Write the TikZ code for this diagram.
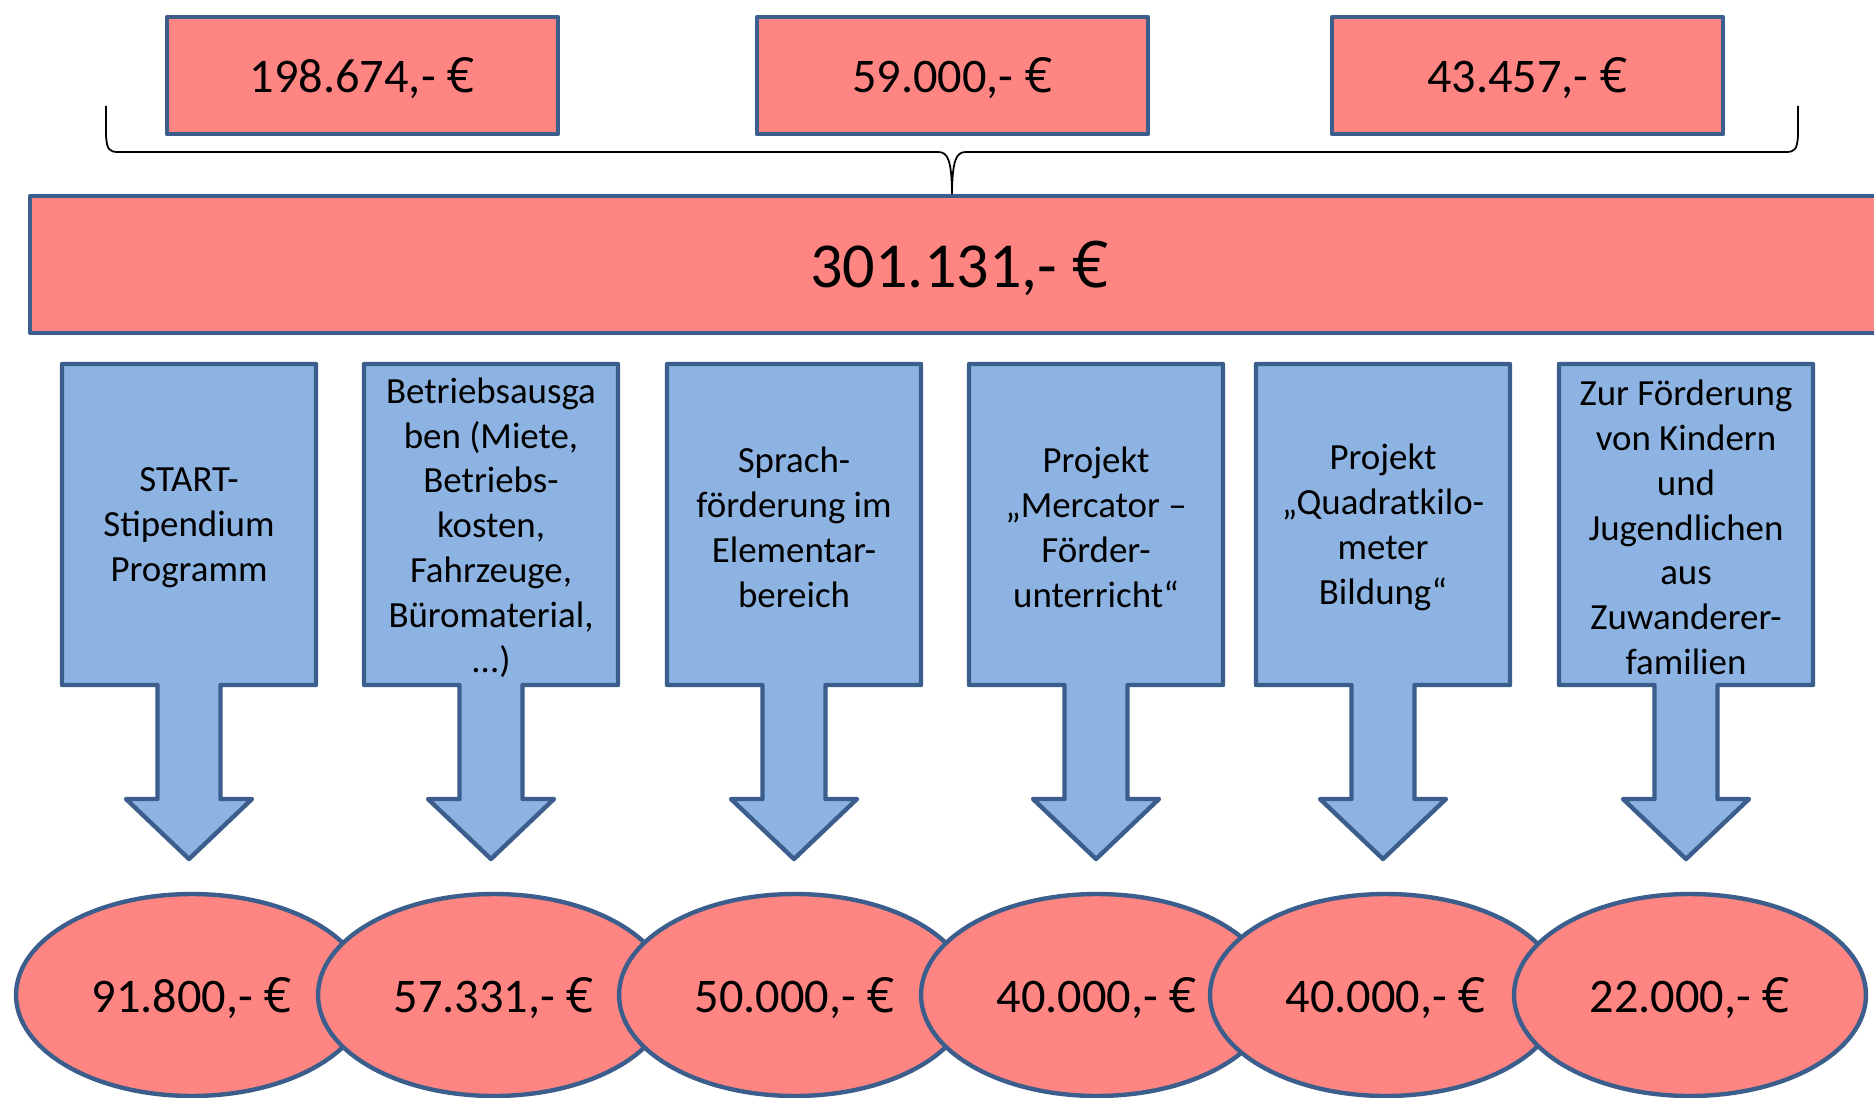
\documentclass[tikz,border=0pt]{standalone}
\usepackage{fontspec}
\setmainfont{Carlito}
\newfontfamily\eurfont{Open Sans}
\newcommand\eursym{{\eurfont €}}
\usetikzlibrary{shapes.geometric}
\definecolor{salmon}{RGB}{255,133,131}
\definecolor{skyfill}{RGB}{141,179,226}
\definecolor{edgeblue}{RGB}{59,94,140}
\tikzset{
  outline/.style={draw=edgeblue, line width=2.5pt, line join=round},
  redbox/.style={outline, fill=salmon, rectangle, inner sep=0pt, text depth=0pt},
  topbox/.style={redbox, minimum width=7.82cm, minimum height=2.34cm, font=\fontsize{27.5}{33}\selectfont},
  totalbox/.style={redbox, minimum width=37.2cm, minimum height=2.74cm, font=\fontsize{36.5}{44}\selectfont},
  amount/.style={ellipse, outline, fill=salmon, minimum width=7.04cm, minimum height=4.04cm, inner sep=0pt, text depth=0pt, font=\fontsize{27.5}{33}\selectfont},
  arrowshape/.style={outline, fill=skyfill},
  boxtext/.style={align=center, inner sep=0pt, font=\fontsize{21}{25.5}\selectfont},
  bracket/.style={draw=black, line width=1pt},
  downcallout/.pic={
    \path[arrowshape] (-127,364) -- (127,364) -- (127,685) -- (31.5,685) -- (31.5,799)
      -- (63,799) -- (0,859) -- (-63,799) -- (-31.5,799) -- (-31.5,685) -- (-127,685) -- cycle;
  }
}
\begin{document}
\begin{tikzpicture}[x=0.02cm,y=-0.02cm]
\useasboundingbox (0,0) rectangle (1874,1098);
\clip (0,0) rectangle (1874,1098);

% top boxes
\node[topbox] (t1) at (362.5,75.5) {198.674,- \eursym};
\node[topbox] (t2) at (952.5,75.5) {59.000,- \eursym};
\node[topbox] (t3) at (1527.5,75.5) {43.457,- \eursym};

% brace
\coordinate (bl) at (106,106);
\coordinate (br) at (1798,106);
\coordinate (bm) at (952,198);
\draw[bracket] (bl) -- (106,136) .. controls (107,149) and (109,152) .. (118,152)
  -- (938,152) .. controls (948,152) and (952,160) .. (bm);
\draw[bracket] (br) -- (1798,136) .. controls (1797,149) and (1795,152) .. (1786,152)
  -- (966,152) .. controls (956,152) and (952,160) .. (bm);

% total
\node[totalbox] (total) at (960,264.5) {301.131,- \eursym};

% callouts
\pic at (189,0) {downcallout};
\pic at (491,0) {downcallout};
\pic at (794,0) {downcallout};
\pic at (1096,0) {downcallout};
\pic at (1383,0) {downcallout};
\pic at (1686,0) {downcallout};

\node[boxtext] (c1) at (189,527.5) {START-\\Stipendium\\Programm};
\node[boxtext] (c2) at (491,527.5) {Betriebsausga\\ben (Miete,\\Betriebs-\\kosten,\\Fahrzeuge,\\Büromaterial,\\...)};
\node[boxtext] (c3) at (794,527.5) {Sprach-\\förderung im\\Elementar-\\bereich};
\node[boxtext] (c4) at (1096,527.5) {Projekt\\„Mercator –\\Förder-\\unterricht“};
\node[boxtext] (c5) at (1383,527.5) {Projekt\\„Quadratkilo-\\meter\\Bildung“};
\node[boxtext] (c6) at (1686,527.5) {Zur Förderung\\von Kindern\\und\\Jugendlichen\\aus\\Zuwanderer-\\familien};

% amounts
\node[amount] (e1) at (192,995) {91.800,- \eursym};
\node[amount] (e2) at (494,995) {57.331,- \eursym};
\node[amount] (e3) at (795,995) {50.000,- \eursym};
\node[amount] (e4) at (1097,995) {40.000,- \eursym};
\node[amount] (e5) at (1386,995) {40.000,- \eursym};
\node[amount] (e6) at (1690,995) {22.000,- \eursym};
\end{tikzpicture}
\end{document}
